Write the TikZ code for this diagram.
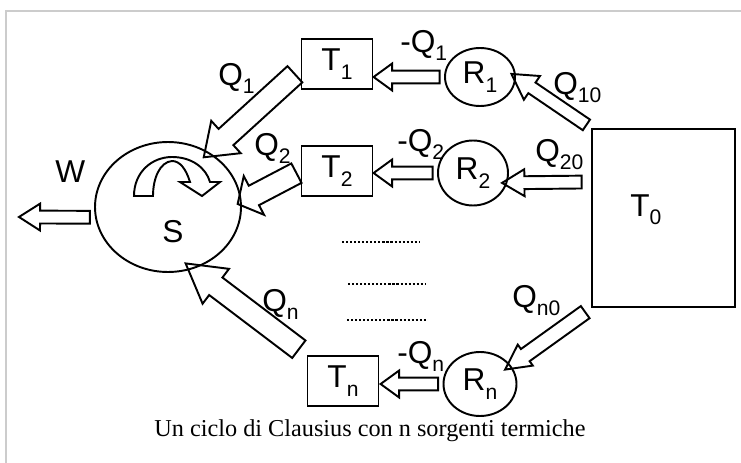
\documentclass[tikz,border=0pt]{standalone}
\usepackage{fontspec}
\setmainfont{Liberation Sans}
\newfontfamily\capfont{Liberation Serif}
\usetikzlibrary{calc, shapes.geometric, shapes.arrows}

\newcommand{\bigsans}{\fontsize{18}{20}\selectfont}
\newcommand{\sbs}[1]{\raisebox{-5pt}{\fontsize{12}{12}\selectfont #1}}
% hollow heat arrow between two points
\newcommand{\heat}[3][]{%
  \path let \p1=#2, \p2=#3, \n1={veclen(\x2-\x1,\y2-\y1)} in
    #2 -- #3 node[heatarrow, midway, sloped, allow upside down,
                  minimum height=\n1, #1] {};}

\begin{document}
\begin{tikzpicture}[x=0.02cm, y=-0.02cm,
    box/.style={draw, line width=1.1pt, minimum width=1.42cm, minimum height=1cm,
                inner sep=0pt, font=\bigsans},
    res/.style={draw, ellipse, line width=1.1pt, inner sep=0pt, font=\bigsans},
    lbl/.style={anchor=base west, inner sep=0pt, font=\bigsans},
    heatarrow/.style={single arrow, draw, line width=1.1pt, inner xsep=0pt,
                      inner ysep=3.1pt, single arrow head extend=4pt,
                      single arrow tip angle=72, outer sep=0pt},
    wide/.style={inner ysep=5.7pt, single arrow head extend=6.2pt},
    dots/.style={line width=1.2pt, dash pattern=on 1.2pt off 1.1pt}]
    %% Clausius cycle with n sources

    \useasboundingbox (0,0) rectangle (741,463);

    % Frame
    \draw[gray!40, line width=0.6pt] (6,463) -- (6,11) -- (741,11);

    % System
    \node[res, minimum width=2.92cm, minimum height=2.6cm] (sys) at (168,207) {};
    \draw[line width=1.1pt] (134,196) .. controls (134,172) and (152,157) .. (172,157)
        .. controls (192,157) and (206,168) .. (210,182)
        -- (220,182) -- (202,196) -- (180,182) -- (190,182)
        .. controls (186,169) and (180,161) .. (172,161)
        .. controls (160,162) and (153,178) .. (153,196) -- cycle;

    % Sources
    \node[box] (T1) at (337,64) {T\sbs{1}};
    \node[box] (T2) at (337,171) {T\sbs{2}};
    \node[box] (Tn) at (343,381) {T\sbs{n}};

    % Machines
    \node[res, minimum width=1.4cm, minimum height=1.16cm] (R1) at (480,77) {R\sbs{1}};
    \node[res, minimum width=1.4cm, minimum height=1.3cm] (R2) at (473,173) {R\sbs{2}};
    \node[res, minimum width=1.46cm, minimum height=1.28cm] (Rn) at (480,384) {R\sbs{n}};

    % Reservoir
    \node[box, minimum width=2.86cm, minimum height=3.56cm] (T0) at (663.5,218) {};

    % Free ends
    \coordinate (wout) at (24,217);
    \coordinate (in1) at (378,77);
    \coordinate (in2) at (378,173);
    \coordinate (inn) at (385,384);
    \coordinate (out20) at (587,182);

    % Heat arrows
    \heat[wide, single arrow tip angle=72]{(T1.188)}{(sys.53)}
    \heat[wide, single arrow tip angle=100]{(T2.west)}{(sys.4)}
    \heat[wide, single arrow tip angle=60]{(Tn.north west)}{(sys.292)}
    \heat[single arrow tip angle=65]{(sys.188)}{(wout)}
    \heat{(R1.west)}{(in1)}
    \heat{(R2.west)}{(in2)}
    \heat{(Rn.west)}{(inn)}
    \heat[single arrow tip angle=60, single arrow head extend=4.5pt]{(T0.north west)}{(R1.east)}
    \heat[single arrow tip angle=62]{(out20)}{(R2.344)}
    \heat[inner ysep=3.7pt, single arrow head extend=3.1pt, single arrow tip angle=55]{(T0.south west)}{(Rn.31)}

    % Dots
    \draw[dots] (342,242) -- (420,242);
    \draw[dots] (348,284) -- (426,284);
    \draw[dots] (347,320) -- (426,320);

    % Labels
    \node[lbl] (lW) at (55,182) {W};
    \node[lbl] (lS) at (162,242) {S};
    \node[lbl] (lT0) at (630,216) {T\sbs{0}};
    \node[lbl] (lQ1) at (218,85) {Q\sbs{1}};
    \node[lbl] (lQ2) at (254,155) {Q\sbs{2}};
    \node[lbl] (lQn) at (262,311) {Q\sbs{n}};
    \node[lbl] (lmQ1) at (400,52) {-Q\sbs{1}};
    \node[lbl] (lmQ2) at (397,151) {-Q\sbs{2}};
    \node[lbl] (lmQn) at (397,363) {-Q\sbs{n}};
    \node[lbl] (lQ10) at (553,94) {Q\sbs{10}};
    \node[lbl] (lQ20) at (535,161) {Q\sbs{20}};
    \node[lbl] (lQn0) at (512,307) {Q\sbs{n0}};

    % Caption
    \node[anchor=base, inner sep=0pt, font=\capfont\fontsize{13.8}{14}\selectfont] (cap)
        at (370,436) {Un ciclo di Clausius con n sorgenti termiche};

\end{tikzpicture}
\end{document}
